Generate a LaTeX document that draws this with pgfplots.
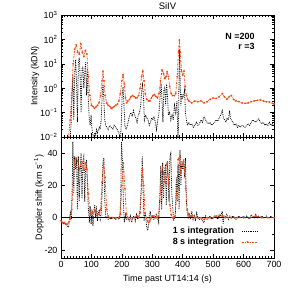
\documentclass[border=0pt]{standalone}
\usepackage{pgfplots}
\pgfplotsset{compat=1.18}
\usepackage{fontspec}
\setmainfont{Liberation Sans}
\definecolor{orng}{RGB}{245,70,20}
\begin{document}
\begin{tikzpicture}[font=\fontsize{9}{10}\selectfont]
\path[use as bounding box] (0,0) rectangle (305bp,-305bp);
\pgfplotsset{
  myax/.style={scale only axis, width=213bp, xmin=0, xmax=700,
    xtick={0,100,...,700}, minor x tick num=9, tick align=inside,
    axis line style={black, line width=0.6pt},
    major tick length=4bp, minor tick length=2bp,
    every tick/.style={black, line width=0.5pt},
    /pgf/number format/assume math mode=true,
    tick label style={font=\fontsize{9}{10}\selectfont},
    label style={font=\fontsize{9}{10}\selectfont},
    ylabel style={yshift=-6bp}},
  blk/.style={black, densely dotted, line width=0.8pt, mark=none},
  org/.style={orng, dash pattern=on 2pt off 1pt on 0.6pt off 1pt, line width=0.8pt, mark=*, mark size=0.45pt, mark options={solid, fill=orng, draw=orng}}
}
\begin{axis}[myax, at={(61bp,-137bp)}, anchor=south west, height=122bp,
  ymode=log, ymin=0.01, ymax=1000,
  ytick={0.01,0.1,1,10,100,1000},
  yticklabels={10\textsuperscript{−2},10\textsuperscript{−1},10\textsuperscript{0},10\textsuperscript{1},10\textsuperscript{2},10\textsuperscript{3}},
  xticklabels={},
  ylabel={Intensity (kDN)},
  title={SiIV}, title style={yshift=-4bp, font=\fontsize{9.5}{10}\selectfont}]
\addplot[blk] coordinates {
(25,0.005)(30,0.01)(33,0.03)(36,0.5)(39,3)(42,0.05)(45,4)(48,15)(51,2)(54,0.04)(57,10)(60,18)(63,3)(66,0.1)(69,6)(72,8)(75,1)(78,4)(81,12)(84,0.5)(87,6)(90,0.3)(93,0.05)(96,0.03)(99,0.08)(102,0.02)(105,0.012)(108,0.008)(111,0.015)(114,0.012)(117,0.02)(120,0.015)(123,0.02)(126,0.025)(129,0.02)(132,0.05)(135,0.4)(138,1.5)(141,0.3)(144,0.05)(147,0.03)(150,0.025)(155,0.02)(160,0.03)(165,0.025)(170,0.02)(175,0.03)(180,0.025)(185,0.02)(190,0.015)(195,0.008)(198,0.03)(201,0.5)(204,1.1)(207,0.2)(210,0.03)(214,0.02)(218,0.03)(222,0.05)(226,0.08)(230,0.1)(234,0.07)(238,0.12)(242,0.08)(246,0.06)(250,0.04)(254,0.08)(258,0.1)(262,0.2)(265,0.8)(268,1.4)(271,0.5)(274,0.05)(278,0.08)(282,0.06)(286,0.05)(290,0.03)(294,0.04)(298,0.06)(302,0.05)(306,0.07)(310,0.04)(314,0.02)(318,0.05)(322,0.1)(326,0.5)(329,1.5)(332,0.3)(335,0.04)(338,0.8)(341,1.2)(344,0.2)(347,1.5)(350,0.5)(353,0.08)(357,0.1)(361,0.05)(365,0.08)(369,0.05)(373,0.2)(377,0.1)(381,0.3)(384,0.01)(386,0.02)(388,5)(390,40)(392,1)(394,0.2)(397,0.6)(400,0.4)(403,0.5)(406,0.8)(409,0.1)(412,0.05)(416,0.03)(420,0.04)(425,0.03)(430,0.035)(435,0.025)(440,0.03)(445,0.04)(450,0.03)(455,0.035)(460,0.05)(465,0.04)(470,0.07)(475,0.05)(480,0.04)(485,0.035)(490,0.04)(495,0.03)(500,0.035)(505,0.04)(510,0.05)(515,0.045)(520,0.06)(525,0.08)(530,0.12)(534,0.06)(538,0.05)(542,0.04)(546,0.06)(550,0.05)(554,0.12)(557,0.06)(560,0.05)(565,0.04)(570,0.03)(575,0.035)(580,0.025)(585,0.03)(590,0.025)(595,0.03)(600,0.028)(605,0.025)(610,0.03)(615,0.035)(620,0.03)(625,0.04)(630,0.05)(635,0.045)(640,0.04)(645,0.05)(650,0.055)(655,0.04)(660,0.035)(665,0.04)(670,0.03)(675,0.035)(680,0.03)(685,0.04)(690,0.03)(695,0.035)(700,0.03)
};
\addplot[org] coordinates {
(20,0.005)(25,0.01)(30,0.05)(35,0.5)(40,10)(45,40)(50,60)(55,30)(60,25)(65,65)(70,30)(75,20)(80,35)(85,25)(90,3)(95,0.5)(100,0.2)(105,0.18)(110,0.15)(115,0.17)(120,0.2)(125,0.25)(130,0.5)(135,2)(138,5)(141,2)(145,0.5)(150,0.25)(155,0.2)(160,0.18)(165,0.15)(170,0.16)(175,0.18)(180,0.2)(185,0.22)(190,0.3)(195,0.6)(200,2)(204,3.5)(208,1.5)(212,0.4)(216,0.25)(220,0.3)(225,0.35)(230,0.45)(235,0.5)(240,0.45)(245,0.4)(250,0.4)(255,0.5)(260,1)(265,3)(269,5)(273,2)(277,0.6)(282,0.35)(287,0.3)(292,0.3)(297,0.4)(302,0.5)(307,0.55)(312,0.45)(317,0.4)(322,0.6)(327,2)(332,5.5)(337,4)(341,2.5)(345,3)(349,4.8)(353,3)(357,1.2)(362,0.6)(367,0.5)(372,0.5)(377,0.6)(382,3)(386,30)(389,95)(392,30)(396,5)(400,3.5)(404,5)(408,1.2)(412,0.5)(416,0.35)(420,0.3)(430,0.25)(440,0.3)(450,0.28)(460,0.3)(470,0.25)(480,0.28)(490,0.35)(500,0.4)(510,0.38)(520,0.45)(530,0.6)(537,0.45)(545,0.35)(553,0.45)(560,0.5)(567,0.35)(575,0.3)(585,0.28)(595,0.25)(605,0.24)(615,0.25)(625,0.28)(635,0.3)(645,0.32)(655,0.33)(665,0.3)(675,0.28)(685,0.27)(695,0.24)(700,0.23)
};
\node[anchor=north east, align=right, font=\fontsize{9}{10.5}\selectfont\bfseries] at (axis description cs:0.925,0.88) {N =200\\ r =3};
\end{axis}
\begin{axis}[myax, at={(61bp,-258bp)}, anchor=south west, height=121bp,
  ymin=-25, ymax=50, ytick={-20,0,20,40}, minor y tick num=1,
  xlabel={Time past UT14:14 (s)},
  ylabel={Doppler shift (km s\textsuperscript{−1})},
  legend plot pos=right, legend cell align=right,
  legend style={draw=none, fill=none, at={(0.925,0.275)}, anchor=north east,
    font=\fontsize{9}{10}\selectfont\bfseries, row sep=-1pt, column sep=6bp, inner sep=0pt},
  legend image code/.code={\draw[mark repeat=3,mark phase=2,#1] plot coordinates {(0bp,0bp)(5bp,0bp)(10bp,0bp)(15bp,0bp)};}]
\addplot[black, line width=0.6pt, forget plot] coordinates {(0,0)(700,0)};
\addplot[blk] coordinates {
(0,-2)(5,-3)(10,-4)(15,-3)(20,-5)(25,-6)(28,0)(31,3)(34,-1)(37,20)(39,47)(42,15)(45,38)(48,30)(51,37)(54,5)(57,38)(60,10)(63,30)(66,40)(69,12)(72,35)(75,38)(78,10)(81,30)(84,36)(87,20)(90,5)(93,-3)(96,7)(99,-4)(102,5)(105,-5)(108,2)(111,8)(114,0)(117,7)(120,-2)(123,3)(126,5)(129,-1)(132,2)(135,15)(138,35)(141,37)(144,10)(147,1)(150,0)(155,-1)(160,0)(165,-1)(170,0)(175,0)(180,-1)(185,0)(190,-1)(193,0)(196,10)(199,47)(202,35)(205,10)(208,-3)(212,2)(216,-1)(220,0)(224,-2)(228,1)(232,-3)(236,0)(240,1)(244,-2)(248,2)(252,-1)(256,1)(260,5)(264,20)(267,38)(270,15)(273,-2)(277,3)(281,-5)(285,-8)(289,-3)(293,4)(297,0)(301,1)(305,-1)(309,0)(313,2)(317,0)(321,-3)(325,15)(328,32)(331,5)(334,34)(337,12)(340,28)(343,33)(346,8)(349,35)(352,25)(355,10)(358,38)(361,40)(364,15)(367,8)(370,-2)(373,0)(376,3)(379,25)(382,10)(385,33)(388,5)(391,42)(394,20)(397,35)(400,30)(403,36)(406,25)(409,37)(412,10)(415,3)(418,0)(422,2)(426,-1)(430,4)(434,-1)(438,2)(442,-2)(446,3)(450,0)(455,-1)(460,0)(465,-2)(470,-3)(475,1)(480,-1)(485,0)(490,1)(495,-1)(500,0)(505,1)(510,0)(515,-1)(520,2)(525,1)(530,4)(533,-4)(536,1)(540,0)(545,2)(550,-1)(555,1)(560,0)(565,1)(570,0)(575,-1)(580,0)(585,1)(590,0)(595,0)(600,1)(605,0)(610,1)(615,0)(620,-1)(625,2)(630,1)(635,0)(640,2)(645,0)(650,1)(655,0)(660,1)(665,0)(670,0)(675,1)(680,0)(685,0)(690,1)(695,0)(700,0)
};
\addlegendentry{1 s integration}
\addplot[org] coordinates {
(0,-2)(5,-3)(10,-3)(15,-4)(20,-4)(25,-3)(30,-1)(35,5)(40,22)(45,35)(50,37)(55,35)(60,30)(65,33)(70,34)(75,30)(80,34)(85,30)(90,15)(95,4)(100,2)(105,3)(110,5)(115,3)(120,2)(125,2)(130,5)(135,22)(140,34)(145,25)(150,5)(155,1)(160,0)(170,0)(180,0)(190,0)(195,2)(200,20)(205,34)(210,18)(215,2)(220,0)(230,0)(240,0)(250,1)(255,0)(260,3)(265,20)(268,30)(272,20)(276,3)(280,0)(284,-2)(288,-3)(292,-2)(296,0)(300,1)(305,1)(310,0)(315,0)(320,1)(325,10)(330,28)(334,31)(338,27)(342,22)(346,33)(350,34)(354,22)(358,8)(362,2)(366,0)(370,0)(375,1)(380,15)(385,36)(390,38)(394,28)(398,33)(402,35)(406,30)(410,18)(415,5)(420,2)(425,1)(430,1)(440,0)(450,0)(460,0)(470,-1)(480,0)(490,0)(500,0)(510,1)(520,1)(530,1)(540,0)(550,0)(560,0)(570,0)(580,0)(600,0)(620,0)(640,1)(660,0)(680,0)(700,0)
};
\addlegendentry{8 s integration}
\end{axis}
\end{tikzpicture}
\end{document}
